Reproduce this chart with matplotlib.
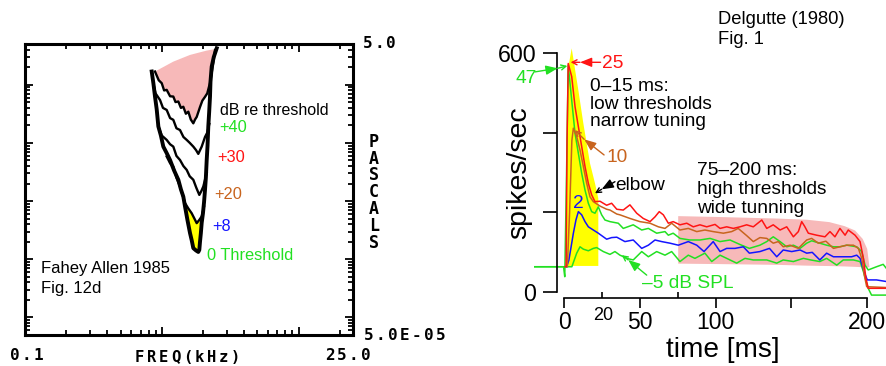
import numpy as np
import matplotlib
matplotlib.use('Agg')
import matplotlib.pyplot as plt
from matplotlib.ticker import NullFormatter, FixedLocator, LogLocator

plt.rcParams['font.family'] = ['Liberation Sans', 'DejaVu Sans']

# ---------------- Left panel data: tuning curves (kHz, dB SPL) ----------------
thr_khz = [0.844, 0.868, 0.892, 0.918, 0.944, 0.985, 1.026, 1.085, 1.149, 1.23, 1.321, 1.38,
           1.437, 1.479, 1.54, 1.608, 1.655, 1.700, 1.78, 1.849, 1.881, 1.903, 1.93, 1.958,
           2.00, 2.036, 2.070, 2.10, 2.130, 2.16, 2.188, 2.22, 2.252, 2.27, 2.317, 2.40, 2.521]
thr_db = [98.5, 94.5, 89.9, 85.5, 79.6, 76.5, 72.7, 70.5, 68.1, 64.5, 61.3, 58.0,
          55.5, 52.1, 47.5, 43.0, 40.5, 37.8, 37.0, 36.5, 37.2, 40.0, 42.9, 46.5,
          49.8, 53.5, 57.8, 62.0, 68.1, 73.0, 79.6, 84.5, 89.9, 95.0, 100.2, 103.5, 106.5]

c40_khz = [0.892, 0.95, 0.999, 1.04, 1.086, 1.15, 1.214, 1.26, 1.321, 1.38, 1.437, 1.50,
           1.563, 1.63, 1.700, 1.75, 1.800, 1.903, 1.98, 2.070, 2.15, 2.252, 2.369, 2.450]
c40_db = [98.5, 95.5, 94.5, 92.0, 92.2, 90.0, 89.9, 88.0, 88.2, 86.0, 86.4, 84.0,
          84.7, 82.0, 80.7, 82.0, 82.9, 86.3, 88.5, 89.8, 91.0, 94.6, 100.8, 105.9]

c30_khz = [0.867, 0.90, 0.971, 1.02, 1.086, 1.15, 1.214, 1.28, 1.359, 1.44, 1.521, 1.60,
           1.700, 1.78, 1.849, 1.958, 2.070, 2.15, 2.225]
c30_db = [94.5, 91.0, 88.7, 86.0, 85.3, 82.5, 81.9, 79.0, 78.4, 76.0, 75.0, 74.0,
          72.7, 71.5, 70.2, 72.7, 76.0, 77.5, 80.5]

c20_khz = [0.944, 1.00, 1.086, 1.15, 1.214, 1.28, 1.359, 1.44, 1.521, 1.60, 1.700, 1.79,
           1.881, 1.95, 2.012, 2.130]
c20_db = [79.6, 76.5, 75.0, 73.5, 72.7, 69.5, 68.1, 66.0, 64.7, 62.5, 61.3, 58.5,
          56.1, 57.5, 59.0, 63.6]

c8_khz = [1.086, 1.15, 1.214, 1.28, 1.359, 1.42, 1.479, 1.56, 1.654, 1.73, 1.800, 1.88,
          1.958, 2.036]
c8_db = [69.3, 67.0, 65.8, 62.0, 59.0, 56.0, 53.3, 51.5, 49.8, 48.0, 46.4, 47.5,
         48.7, 52.1]

pink_top_khz = [0.892, 1.214, 1.608, 2.130, 2.450]
pink_top_db = [98.5, 101.9, 104.2, 105.7, 106.2]

left_xlim = [0.1, 25.0]
left_ylim = [5e-5, 5.0]
left_xticklabels = ['0.1', '25.0']
left_yticklabels = ['5.0E-05', '5.0']
left_xlabel = 'FREQ(kHz)'
left_ylabel = 'PASCALS'
left_curve_labels = ['+40', '+30', '+20', '+8', '0 Threshold']

# ---------------- Right panel data: PSTHs (ms, spikes/sec) ----------------
red_t = [0.5, 1.2, 1.8, 2.6, 4.9, 7.1, 9.3, 11.5, 13.7, 15.9, 18.1, 20.3, 23.6, 28.0, 31.3, 34.7,
         39.0, 43.4, 47.9, 52.2, 56.7, 60.0, 62.8, 65.5, 68.8, 72.0, 76.5, 81.0, 85.3, 89.7, 94.2,
         99.7, 103.0, 107.4, 111.8, 116.2, 120.6, 125.0, 130.6, 133.9, 138.2, 142.7, 147.1, 151.5,
         154.8, 157.0, 159.0, 161.4, 166.9, 172.4, 175.7, 179.0, 182.3, 185.7, 187.8, 192.3, 195.6,
         197.8, 199.5, 201.0, 213.0]
red_r = [64, 64, 380, 573, 540, 465, 415, 365, 315, 273, 244, 227, 228, 218, 223, 208,
         206, 219, 198, 185, 177, 189, 202, 194, 173, 177, 169, 173, 164, 169, 164,
         170, 160, 164, 160, 164, 169, 164, 181, 160, 169, 156, 164, 139,
         152, 177, 165, 148, 143, 139, 152, 139, 160, 143, 156, 143, 127,
         85, 35, 10, 10]

brown_t = [2.0, 3.5, 5.0, 6.0, 8.2, 10.4, 12.6, 14.8, 17.0, 19.2, 23.6, 28.0, 30.2, 34.7, 36.8,
           43.4, 50.0, 56.7, 62.2, 66.6, 71.0, 76.5, 82.0, 87.6, 93.0, 98.5, 105.2, 110.7, 115.0,
           120.6, 125.0, 129.4, 133.9, 138.2, 141.5, 144.8, 149.3, 154.8, 160.3, 163.6, 168.0,
           173.0, 178.0, 182.3, 186.8, 191.2, 194.5, 196.7, 198.4, 200.0, 213.0]
brown_r = [64, 200, 380, 411, 390, 356, 315, 273, 239, 227, 216, 208, 206, 196, 194,
           185, 177, 173, 164, 160, 173, 156, 160, 152, 156, 152, 148, 152, 160,
           142, 127, 137, 135, 123, 127, 114, 118, 110, 131, 135, 123,
           128, 110, 114, 118, 118, 110, 85, 43, 14, 12]

green47_t = [-20, -0.5, 0.3, 1.5, 2.6, 4.9, 7.1, 9.3, 11.5, 13.7, 15.9, 18.1, 20.3, 22.5, 24.7,
             26.9, 30.2, 35.7, 39.0, 45.6, 51.2, 55.6, 61.1, 66.6, 68.8, 72.0, 76.5, 83.0, 89.7,
             96.4, 103.0, 109.6, 116.0, 122.4, 129.4, 133.9, 138.2, 142.7, 147.1, 151.5, 155.9,
             160.3, 163.6, 169.0, 173.5, 178.0, 182.3, 186.8, 193.4, 196.7, 198.9, 201.0, 206.5,
             210.9, 213.0]
green47_r = [64, 64, 39, 300, 569, 481, 398, 348, 298, 256, 223, 202, 198, 214, 194,
             181, 177, 173, 160, 169, 156, 160, 148, 152, 143, 148, 135, 131, 131,
             135, 127, 131, 120, 110, 118, 127, 139, 127, 114, 118, 110,
             123, 129, 123, 118, 114, 114, 118, 114, 102, 68, 56, 64,
             70, 60]

blue_t = [1.5, 3.0, 3.8, 6.0, 7.7, 9.3, 11.5, 13.7, 15.9, 19.2, 22.5, 25.8, 28.0, 31.3, 34.7,
          40.1, 45.6, 51.2, 55.6, 60.0, 64.4, 69.9, 75.4, 82.0, 87.6, 92.4, 98.5, 103.0, 107.4,
          112.9, 118.4, 122.4, 129.4, 135.7, 140.5, 144.8, 150.4, 155.9, 160.3, 164.0, 169.0,
          173.5, 178.0, 184.5, 190.0, 193.4, 195.6, 198.2, 200.4, 206.5, 213.0]
blue_r = [64, 80, 98, 148, 181, 202, 194, 177, 164, 156, 148, 139, 133, 137, 138,
          127, 131, 110, 118, 131, 127, 123, 118, 127, 118, 102, 127, 102, 110,
          110, 114, 98, 102, 110, 89, 106, 102, 106, 98, 100, 81,
          98, 89, 89, 89, 93, 85, 52, 31, 31, 27]

green5_t = [-20, 5.0, 8.2, 10.4, 12.6, 15.9, 19.2, 21.4, 25.8, 30.2, 33.5, 36.8, 42.3, 45.6,
            51.2, 55.6, 61.1, 66.6, 71.0, 76.5, 82.0, 86.4, 93.0, 97.5, 103.0, 109.6, 114.0,
            119.5, 125.0, 133.9, 140.5, 144.8, 151.5, 158.1, 163.0, 169.0, 173.5, 180.2, 184.5,
            191.2, 195.6, 197.8, 201.0, 203.2, 213.0]
green5_r = [64, 64, 98, 114, 108, 104, 110, 112, 102, 95, 102, 93, 84, 81,
            102, 89, 102, 93, 102, 77, 93, 85, 98, 77, 93, 81, 73,
            85, 81, 81, 73, 81, 77, 85, 81, 77, 85, 68, 81,
            81, 77, 52, 10, -7, -7]

yellow_t = [0.8, 2.5, 4.9, 9.3, 12.6, 17.0, 20.3, 22.5, 22.5]
yellow_r = [66, 560, 611, 506, 423, 323, 273, 235, 66]

pink_t = [75, 100, 140, 160, 175, 185, 192, 197, 200, 201.5]
pink_hi = [192, 190, 186, 183, 177, 167, 156, 135, 110, 64]
pink_lo = [73, 72, 70, 68, 67, 66, 65, 64, 64, 64]

right_yticks = [0, 200, 400, 600]
right_yticklabels = ['0', '', '', '600']
right_xticks = [0, 50, 100, 150, 200]
right_xticklabels = ['0', '50', '100', '', '200']
right_xminor = [25, 75]

GREEN = '#22e022'
RED = '#ff1414'
BROWN = '#c8641e'
BLUE = '#1414ff'
YELLOW = '#ffff00'
PINK = '#f7b9b9'

W, H = 886, 366
fig = plt.figure(figsize=(W / 100, H / 100), dpi=100)


def ptext(x, y, s, **kw):
    return fig.text(x / W, 1 - y / H, s, **kw)


def mono(x_left, y_base, s, pitch=12.0, size=11.5):
    for i, ch in enumerate(s):
        ptext(x_left + 4.5 + i * pitch, y_base, ch, ha='center', va='baseline',
              family='DejaVu Sans Mono', weight='bold', size=size, color='black')


def spl_to_pa(db):
    return 2e-5 * 10 ** (np.asarray(db, dtype=float) / 20.0)


# ================= LEFT PANEL =================
L0, L1, T0p, B0p = 25, 353, 44, 335
ax1 = fig.add_axes([L0 / W, 1 - B0p / H, (L1 - L0) / W, (B0p - T0p) / H])
ax1.set_xscale('log')
ax1.set_yscale('log')
ax1.set_xlim(left_xlim)
ax1.set_ylim(left_ylim)
ax1.xaxis.set_minor_locator(LogLocator(base=10, subs=np.arange(2, 10)))
ax1.yaxis.set_minor_locator(LogLocator(base=10, subs=np.arange(2, 10), numticks=20))
ax1.xaxis.set_major_formatter(NullFormatter())
ax1.xaxis.set_minor_formatter(NullFormatter())
ax1.yaxis.set_major_formatter(NullFormatter())
ax1.yaxis.set_minor_formatter(NullFormatter())
ax1.tick_params(which='both', direction='in', top=True, right=True, width=1.3, color='black')
ax1.tick_params(which='major', length=6)
ax1.tick_params(which='minor', length=3.5)
for s in ax1.spines.values():
    s.set_linewidth(2.2)

# pink region (above +40 curve)
pk_x = list(pink_top_khz) + list(c40_khz[::-1])
pk_y = list(spl_to_pa(pink_top_db)) + list(spl_to_pa(c40_db[::-1]))
ax1.fill(pk_x, pk_y, color=PINK, lw=0, zorder=1)

# yellow region (between +8 curve and threshold tip)
i0 = c8_khz.index(1.479)
j_hi = thr_khz.index(2.036)
j_lo = thr_khz.index(1.479)
yx = list(c8_khz[i0:]) + [thr_khz[j] for j in range(j_hi, j_lo - 1, -1)]
yy = list(spl_to_pa(c8_db[i0:])) + [spl_to_pa(thr_db[j]) for j in range(j_hi, j_lo - 1, -1)]
ax1.fill(yx, yy, color=YELLOW, lw=0, zorder=1)

ax1.plot(thr_khz, spl_to_pa(thr_db), color='black', lw=2.8, zorder=3)
for fk, db in [(c40_khz, c40_db), (c30_khz, c30_db), (c20_khz, c20_db), (c8_khz, c8_db)]:
    ax1.plot(fk, spl_to_pa(db), color='black', lw=1.7, zorder=3)

# left panel axis texts (plotter style)
mono(10, 360, left_xticklabels[0])
mono(325, 360, left_xticklabels[1])
mono(362.7, 48.3, left_yticklabels[1])
mono(364, 340, left_yticklabels[0])
mono(135, 361.5, left_xlabel, size=11.2)
for i, ch in enumerate(left_ylabel):
    ptext(374, 146.7 + i * 16.9, ch, ha='center', va='baseline',
          family='DejaVu Sans Mono', weight='bold', size=12)

ptext(220, 115, 'dB re threshold', size=11.5, color='black')
ptext(219, 131.7, left_curve_labels[0], size=11.8, color=GREEN)
ptext(217.7, 161.7, left_curve_labels[1], size=11.8, color=RED)
ptext(214, 199.3, left_curve_labels[2], size=11.8, color=BROWN)
ptext(212.3, 230.7, left_curve_labels[3], size=11.8, color=BLUE)
ptext(207.3, 260, left_curve_labels[4], size=11.8, color=GREEN)
ptext(40.7, 272.7, 'Fahey Allen 1985', size=12, color='black')
ptext(41, 293.5, 'Fig. 12d', size=12, color='black')

# ================= RIGHT PANEL =================
TX0, PXMS, RY0, PXR = 564.3, 1.512, 292.3, 0.3993
tmin = -20.0
tmax = (W - TX0) / PXMS
rmin, rmax = -20.0, 640.0
ax_l = TX0 + tmin * PXMS
ax_top = RY0 - rmax * PXR
ax_bot = RY0 - rmin * PXR
ax2 = fig.add_axes([ax_l / W, 1 - ax_bot / H, (W - ax_l) / W, (ax_bot - ax_top) / H])
ax2.set_xlim(tmin, tmax)
ax2.set_ylim(rmin, rmax)
ax2.patch.set_visible(False)
ax2.spines['top'].set_visible(False)
ax2.spines['right'].set_visible(False)
ax2.spines['left'].set_position(('data', (556.5 - TX0) / PXMS))
ax2.spines['left'].set_bounds(0, 600)
ax2.spines['bottom'].set_position(('data', (RY0 - 298.3) / PXR))
ax2.spines['bottom'].set_bounds(0, 200)
for s in ('left', 'bottom'):
    ax2.spines[s].set_linewidth(1.2)
ax2.set_yticks(right_yticks)
ax2.set_yticklabels(right_yticklabels)
ax2.set_xticks(right_xticks)
ax2.set_xticklabels(right_xticklabels)
ax2.xaxis.set_minor_locator(FixedLocator(right_xminor))
ax2.tick_params(axis='y', direction='out', length=10.4, width=1.2, pad=4, labelsize=16.7)
ax2.tick_params(axis='x', which='major', direction='out', length=7.5, width=1.2, pad=2.0,
                labelsize=16.5)
ax2.tick_params(axis='x', which='minor', direction='in', length=4.5, width=1.2)

ax2.fill_between(pink_t, pink_lo, pink_hi, color=PINK, lw=0, zorder=1)
ax2.fill(yellow_t, yellow_r, color=YELLOW, lw=0, zorder=1)

lw = 1.1
ax2.plot(green5_t, green5_r, color=GREEN, lw=lw, zorder=2)
ax2.plot(green47_t, green47_r, color=GREEN, lw=lw, zorder=2)
ax2.plot(blue_t, blue_r, color=BLUE, lw=lw, zorder=3)
ax2.plot(brown_t, brown_r, color=BROWN, lw=lw, zorder=3)
ax2.plot(red_t, red_r, color=RED, lw=lw, zorder=4)


def pointer(start, mid, end, color):
    ax2.annotate('', xy=mid, xytext=start,
                 arrowprops=dict(arrowstyle='-|>,head_length=0.7,head_width=0.28',
                                 color=color, lw=1.0, shrinkA=0, shrinkB=0), zorder=5)
    ax2.annotate('', xy=end, xytext=mid,
                 arrowprops=dict(arrowstyle='->,head_length=0.35,head_width=0.18',
                                 color=color, lw=1.0, shrinkA=0, shrinkB=0), zorder=5)


pointer((24.0, 576), (10.4, 576), (4.2, 576), RED)
pointer((-19.4, 552), (-4.4, 561), (2.0, 567), GREEN)
pointer((26.3, 344), (13.2, 383), (7.1, 406), BROWN)
pointer((33.5, 277), (24.7, 258), (20.3, 248), 'black')
pointer((54.5, 43), (42.3, 81), (38.0, 93), GREEN)

fs = 13.8
ptext(601.7, 67.5, '25', size=fs, color=RED)
ptext(516, 83.3, '47', size=fs, color=GREEN)
ptext(606, 162.5, '10', size=fs, color=BROWN)
ptext(573.5, 207.5, '2', size=fs, color=BLUE)
ptext(615, 189.5, 'elbow', size=fs, color='black')
ptext(642.3, 287.5, '\u20135 dB SPL', size=fs, color=GREEN)

ptext(590, 90.7, '0\u201315 ms:', size=fs)
ptext(590, 108.7, 'low thresholds', size=fs)
ptext(590, 126.5, 'narrow tuning', size=fs)
ptext(696.7, 175, '75\u2013200 ms:', size=fs)
ptext(696.7, 194, 'high thresholds', size=fs)
ptext(696.7, 213, 'wide tunning', size=fs)

ptext(717.7, 24.5, 'Delgutte (1980)', size=13.2)
ptext(717.7, 44.3, 'Fig. 1', size=13.2)

ptext(593, 320, '20', size=13)
ptext(519, 173, 'spikes/sec', size=20.5, rotation=90, ha='center', va='center')
ptext(723, 350, 'time [ms]', size=20.2, ha='center', va='center')

fig.savefig('out.png', dpi=100)
